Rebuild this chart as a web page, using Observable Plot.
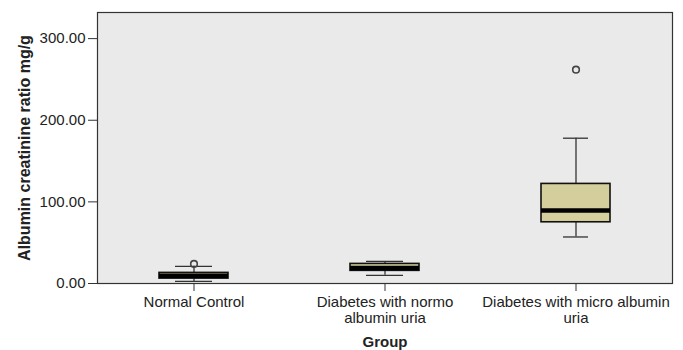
<!DOCTYPE html>
<html>
<head>
<meta charset="utf-8">
<script src="https://cdn.jsdelivr.net/npm/d3@7"></script>
<script src="https://cdn.jsdelivr.net/npm/@observablehq/plot@0.6"></script>
<style>
  html, body { margin: 0; padding: 0; background: #fff; }
  g[aria-label="y-axis label"] text { font-weight: bold; font-size: 16px; }
  g[aria-label="x-axis label"] text { font-weight: bold; }
</style>
</head>
<body>
<div id="chart"></div>
<script>
// Categories and tick labels
const groups = ["Normal Control", "Diabetes with normo albumin uria", "Diabetes with micro albumin uria"];
const tickLabels = ["Normal Control", "Diabetes with normo\nalbumin uria", "Diabetes with micro albumin\nuria"];

// Box plot summary values
const lowerWhisker = [2.5, 10, 57];
const q1 = [6, 15.5, 75];
const median = [9.5, 19, 89.5];
const q3 = [13, 24, 122];
const upperWhisker = [21, 27, 178];

// Outliers
const outlierGroup = ["Normal Control", "Diabetes with micro albumin uria"];
const outlierValue = [24, 262];

// Y ticks
const yTicks = [0, 100, 200, 300];

const boxes = groups.map((g, i) => ({
  group: g, lo: lowerWhisker[i], q1: q1[i], med: median[i], q3: q3[i], hi: upperWhisker[i]
}));
const outliers = outlierGroup.map((g, i) => ({group: g, value: outlierValue[i]}));
const labelOf = new Map(groups.map((g, i) => [g, tickLabels[i]]));

const caps = boxes.flatMap(d => [{group: d.group, v: d.lo}, {group: d.group, v: d.hi}]);
const wideCaps = caps.filter(d => d.group !== groups[2]);
const narrowCaps = caps.filter(d => d.group === groups[2]);

const chart = Plot.plot({
  width: 683,
  height: 350,
  marginLeft: 97,
  marginRight: 11,
  marginTop: 12,
  marginBottom: 67,
  style: {fontFamily: "'Liberation Sans', Arial, sans-serif", fontSize: "15px", background: "#fff", color: "#222"},
  x: {domain: groups, padding: 0},
  y: {domain: [0, 332]},
  marks: [
    Plot.frame({fill: "#eaeaea"}),
    Plot.ruleX(boxes, {x: "group", y1: "lo", y2: "hi", stroke: "#333", strokeWidth: 1.3}),
    Plot.tickY(wideCaps, {x: "group", y: "v", stroke: "#333", strokeWidth: 1.3, insetLeft: 77, insetRight: 77}),
    Plot.tickY(narrowCaps, {x: "group", y: "v", stroke: "#333", strokeWidth: 1.3, insetLeft: 83, insetRight: 83}),
    Plot.barY(boxes, {x: "group", y1: "q1", y2: "q3", fill: "#d3ce9b", stroke: "#111", strokeWidth: 1.6, insetLeft: 61, insetRight: 61}),
    Plot.tickY(boxes, {x: "group", y: "med", stroke: "#000", strokeWidth: 4.5, insetLeft: 61, insetRight: 61}),
    Plot.dot(outliers, {x: "group", y: "value", r: 3.3, stroke: "#444", strokeWidth: 1.6, fill: "none"}),
    Plot.frame({stroke: "#333", strokeWidth: 1.2}),
    Plot.axisY({
      ticks: yTicks,
      tickFormat: d => d.toFixed(2),
      tickSize: 9,
      tickPadding: 3,
      fontSize: 15,
      stroke: "#333",
      label: "Albumin creatinine ratio mg/g",
      labelAnchor: "center",
      labelArrow: "none",
      labelOffset: 79
    }),
    Plot.axisX({
      tickSize: 8,
      tickPadding: 4,
      fontSize: 15,
      lineHeight: 1.07,
      stroke: "#333",
      tickFormat: d => labelOf.get(d),
      label: "Group",
      labelAnchor: "center",
      labelArrow: "none",
      labelOffset: 63
    })
  ]
});
document.getElementById("chart").appendChild(chart);
</script>
</body>
</html>
